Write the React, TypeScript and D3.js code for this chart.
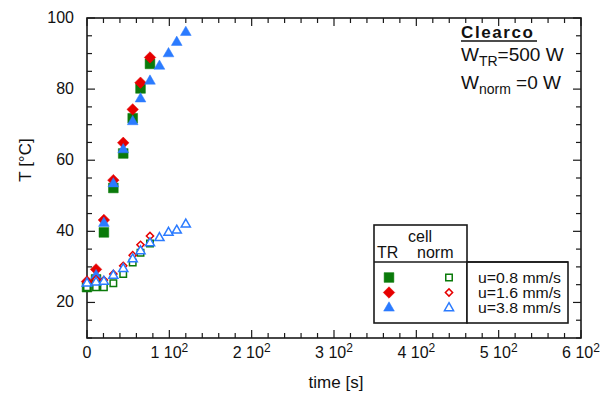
import React from "react";
import * as d3 from "d3";

const times = [0, 11, 20.5, 32, 44, 55.5, 65, 76.5, 88, 99, 109, 120];
const trGreen = [24.3, 26.5, 39.7, 52.2, 61.9, 71.8, 80.2, 87.1];
const trRed = [25.9, 29.3, 43.2, 54.4, 64.9, 74.3, 81.8, 88.9];
const trBlue = [25.5, 27.7, 42.4, 53.5, 63.1, 71.0, 77.4, 82.4, 86.6, 90.1, 93.3, 96.1];
const normGreen = [24.3, 24.3, 24.3, 25.4, 28.0, 31.2, 34.0, 36.6];
const normRed = [25.9, 26.5, 26.3, 28.0, 30.3, 33.3, 36.2, 38.7];
const normBlue = [25.5, 25.8, 26.0, 27.7, 29.6, 32.3, 34.6, 36.8, 38.3, 39.8, 40.4, 42.1];
const xMajor = [0, 100, 200, 300, 400, 500, 600];
const xMajorLabels = ["0", "1", "2", "3", "4", "5", "6"];
const yMajor = [20, 40, 60, 80, 100];
const legendLabels = ["u=0.8 mm/s", "u=1.6 mm/s", "u=3.8 mm/s"];

const W = 609, H = 394;
const L = 87, R = 581, T = 18, B = 338;
const FONT = "'Liberation Sans', Arial, Helvetica, sans-serif";
const GREEN = "#0a7a0a", RED = "#e60000", BLUE = "#2b7bff";

const x = d3.scaleLinear().domain([0, 600]).range([L, R]);
const y = d3.scaleLinear().domain([10, 100]).range([B, T]);

const sq = (s: number) => d3.symbol().type(d3.symbolSquare).size(s)() as string;
const tri = (s: number) => d3.symbol().type(d3.symbolTriangle).size(s)() as string;

type Kind = "sq" | "dia" | "tri";
function Marker({ kind, cx, cy, color, open }: { kind: Kind; cx: number; cy: number; color: string; open: boolean }) {
  let d = "";
  let rot = 0;
  if (kind === "sq") d = sq(open ? 42 : 95);
  else if (kind === "dia") { d = sq(open ? 26 : 66); rot = 45; }
  else d = tri(open ? 36 : 50);
  const dy = kind === "tri" ? 0.5 : 0;
  return (
    <path
      d={d}
      transform={`translate(${cx},${cy + dy}) rotate(${rot})`}
      fill={open ? "white" : color}
      stroke={color}
      strokeWidth={open ? 1.5 : 0.5}
    />
  );
}

const series: { vals: number[]; kind: Kind; color: string; open: boolean }[] = [
  { vals: trGreen, kind: "sq", color: GREEN, open: false },
  { vals: trRed, kind: "dia", color: RED, open: false },
  { vals: trBlue, kind: "tri", color: BLUE, open: false },
  { vals: normGreen, kind: "sq", color: GREEN, open: true },
  { vals: normRed, kind: "dia", color: RED, open: true },
  { vals: normBlue, kind: "tri", color: BLUE, open: true },
];

export default function App() {
  const xMinor = d3.range(0, 601, 20);
  const yMinor = d3.range(10, 101, 5);
  const ink = "#1a1a1a";
  return (
    <svg width={W} height={H} style={{ position: "absolute", left: 0, top: 0, background: "white" }} fontFamily={FONT}>
      <rect width={W} height={H} fill="white" />
      {xMinor.map((v) => {
        const len = v % 100 === 0 ? 8 : 5;
        return (
          <g key={"xt" + v}>
            <line x1={x(v)} x2={x(v)} y1={B} y2={B - len} stroke={ink} strokeWidth={1.2} />
            <line x1={x(v)} x2={x(v)} y1={T} y2={T + len} stroke={ink} strokeWidth={1.2} />
          </g>
        );
      })}
      {yMinor.map((v) => {
        const len = v % 20 === 0 ? 8 : 5;
        return (
          <g key={"yt" + v}>
            <line x1={L} x2={L + len} y1={y(v)} y2={y(v)} stroke={ink} strokeWidth={1.2} />
            <line x1={R} x2={R - len} y1={y(v)} y2={y(v)} stroke={ink} strokeWidth={1.2} />
          </g>
        );
      })}
      <rect x={L} y={T} width={R - L} height={B - T} fill="none" stroke={ink} strokeWidth={1.6} />
      {xMajor.map((v, i) => (
        <text key={"xl" + v} x={x(v)} y={358} fontSize={16} textAnchor="middle" fill="#111">
          {i === 0 ? "0" : (
            <>
              {xMajorLabels[i] + " 10"}
              <tspan fontSize={12} dy={-6}>2</tspan>
            </>
          )}
        </text>
      ))}
      {yMajor.map((v) => (
        <text key={"yl" + v} x={74} y={y(v) + 5} fontSize={16} textAnchor="end" fill="#111">{v}</text>
      ))}
      <text x={336} y={388} fontSize={17} textAnchor="middle" fill="#111">time [s]</text>
      <text transform={`translate(31,160) rotate(-90)`} fontSize={17} textAnchor="middle" fill="#111">T [°C]</text>
      {series.map((s, si) => (
        <g key={"s" + si}>
          {s.vals.map((v, i) => (
            <Marker key={i} kind={s.kind} cx={x(times[i])} cy={y(v)} color={s.color} open={s.open} />
          ))}
        </g>
      ))}
      <text x={461} y={38} fontSize={17} fontWeight="bold" letterSpacing={1.6} fill="#111">Clearco</text>
      <line x1={461} x2={537} y1={41} y2={41} stroke="#111" strokeWidth={1.6} />
      <text x={461} y={61} fontSize={19} fill="#111">
        W<tspan fontSize={14} dy={5}>TR</tspan><tspan dy={-5}>=500 W</tspan>
      </text>
      <text x={461} y={89} fontSize={19} fill="#111">
        W<tspan fontSize={14} dy={5}>norm</tspan><tspan dy={-5}> =0 W</tspan>
      </text>
      <rect x={374} y={225} width={93} height={98} fill="white" stroke={ink} strokeWidth={1.6} />
      <rect x={467} y={262} width={101} height={61} fill="white" stroke={ink} strokeWidth={1.6} />
      <line x1={374} x2={568} y1={262} y2={262} stroke={ink} strokeWidth={1.6} />
      <text x={420} y={242} fontSize={16} textAnchor="middle" fill="#111">cell</text>
      <text x={377} y={258} fontSize={16} fill="#111">TR</text>
      <text x={417} y={258} fontSize={16} fill="#111">norm</text>
      {legendLabels.map((lab, i) => {
        const cy = 277.5 + i * 15;
        const kinds: Kind[] = ["sq", "dia", "tri"];
        const cols = [GREEN, RED, BLUE];
        return (
          <g key={"lg" + i}>
            <Marker kind={kinds[i]} cx={389} cy={cy} color={cols[i]} open={false} />
            <Marker kind={kinds[i]} cx={449} cy={cy} color={cols[i]} open={true} />
            <text x={478} y={cy + 5} fontSize={14} textLength={83} lengthAdjust="spacingAndGlyphs" fill="#111">{lab}</text>
          </g>
        );
      })}
    </svg>
  );
}
